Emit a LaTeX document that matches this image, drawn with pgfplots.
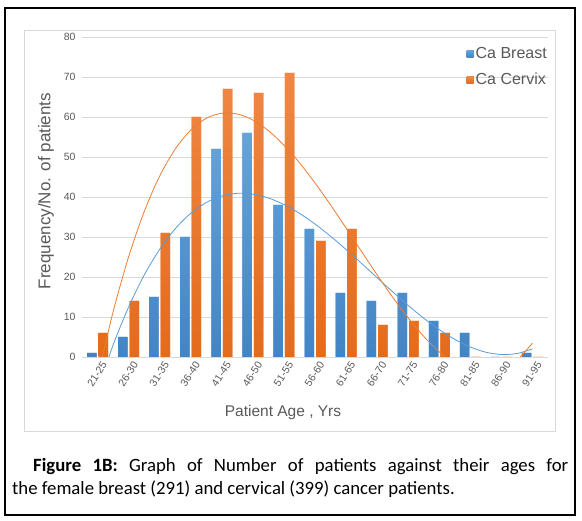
\documentclass[border=0pt]{standalone}
\usepackage{pgfplots}
\pgfplotsset{compat=1.18}
\usepackage{pgfplotstable}
\usepackage{fontspec}
\setmainfont{Liberation Sans}
\newfontfamily\capfont{Carlito}
\definecolor{cblue}{HTML}{5B9BD5}
\definecolor{cbluetop}{HTML}{66A3DA}
\definecolor{cbluebot}{HTML}{4384C4}
\definecolor{corange}{HTML}{ED7D31}
\definecolor{corangetop}{HTML}{EF8844}
\definecolor{corangebot}{HTML}{E36B1D}
\definecolor{txtgray}{HTML}{595959}
\definecolor{gridgray}{HTML}{D9D9D9}
\pgfplotstableread{
i breast cervix
0 1 6
1 5 14
2 15 31
3 30 60
4 52 67
5 56 66
6 38 71
7 32 29
8 16 32
9 14 8
10 16 9
11 9 6
12 6 0
13 0 0
14 1 0
}\agedata
\begin{document}
\begin{tikzpicture}[x=1bp,y=1bp]
\path (0,0) rectangle (582,521);
\draw[line width=1.3bp] (5,6) rectangle (575,513);
\draw[gridgray, line width=0.8bp] (24,90) rectangle (555,491);
\begin{axis}[
  at={(82bp,164bp)}, anchor=south west,
  scale only axis, width=466bp, height=320bp,
  xmin=-0.5, xmax=14.5, ymin=0, ymax=80,
  axis line style={draw=none},
  axis x line*=bottom,
  x axis line style={draw=gridgray, line width=0.8bp},
  ytick={0,10,...,80},
  ymajorgrids, grid style={gridgray, line width=0.8bp},
  major tick length=0pt,
  xtick={0,...,14},
  xticklabels={21-25,26-30,31-35,36-40,41-45,46-50,51-55,56-60,61-65,66-70,71-75,76-80,81-85,86-90,91-95},
  xticklabel style={rotate=57, anchor=north east, font=\fontsize{10.5bp}{12bp}\selectfont, text=txtgray, inner sep=1bp, yshift=-4bp},
  yticklabel style={font=\fontsize{10.5bp}{12bp}\selectfont, text=txtgray, xshift=-3bp},
  /pgf/number format/assume math mode=true,
  legend style={at={(0.825,0.974)}, anchor=north west, draw=none, fill=none,
    font=\fontsize{16bp}{19bp}\selectfont, text=txtgray, row sep=9bp, inner sep=0pt,
    cells={anchor=west}},
  legend image code/.code={\fill[#1] (1bp,-3.5bp) rectangle (8bp,3.5bp);},
  clip=true,
]
\addplot[ybar, bar width=9.5bp, bar shift=-5.75bp, draw=none, fill=cblue, top color=cbluetop, bottom color=cbluebot] table[x=i, y=breast] {\agedata};
\addlegendentry{Ca Breast}
\addplot[ybar, bar width=9.5bp, bar shift=5.75bp, draw=none, fill=corange, top color=corangetop, bottom color=corangebot] table[x=i, y=cervix] {\agedata};
\addlegendentry{Ca Cervix}
\addplot[cblue, line width=0.8bp, smooth, forget plot] coordinates {
(0,-8.22) (0.5,2.96) (1,12.48) (1.5,20.43) (2,26.92) (2.5,32.05) (3,35.92) (3.5,38.62)
(4,40.25) (4.5,40.92) (5,40.72) (5.5,39.75) (6,38.12) (6.5,35.92) (7,33.24) (7.5,30.20)
(8,26.88) (8.5,23.39) (9,19.83) (9.5,16.30) (10,12.89) (10.5,9.70) (11,6.84) (11.5,4.40)
(12,2.49) (12.5,1.19) (13,0.62) (13.5,0.87) (14,2.03)};
\addplot[corange, line width=0.8bp, smooth, forget plot] coordinates {
(0,-5.21) (0.5,11.26) (1,25.03) (1.5,36.30) (2,45.22) (2.5,51.98) (3,56.74) (3.5,59.67)
(4,60.95) (4.5,60.75) (5,59.24) (5.5,56.58) (6,52.96) (6.5,48.55) (7,43.51) (7.5,38.01)
(8,32.24) (8.5,26.35) (9,20.53) (9.5,14.94) (10,9.76) (10.5,5.15) (11,1.29) (11.5,-1.65)
(12,-3.50) (12.5,-4.08) (13,-3.23) (13.5,-0.77) (14,3.46)};
\end{axis}
\node[rotate=90, text=txtgray, font=\fontsize{17bp}{19bp}\selectfont] at (46,330) {Frequency/No. of patients};
\node[text=txtgray, font=\fontsize{15.5bp}{18bp}\selectfont] at (283,109) {Patient Age , Yrs};
\node[anchor=base west, inner sep=0pt, font=\capfont\fontsize{18.75bp}{22bp}\selectfont] at (33,49) {\makebox[535bp][s]{\textbf{Figure 1B:} Graph of Number of patients against their ages for}};
\node[anchor=base west, inner sep=0pt, font=\capfont\fontsize{18.75bp}{22bp}\selectfont] at (12,26) {the female breast (291) and cervical (399) cancer patients.};
\end{tikzpicture}
\end{document}
